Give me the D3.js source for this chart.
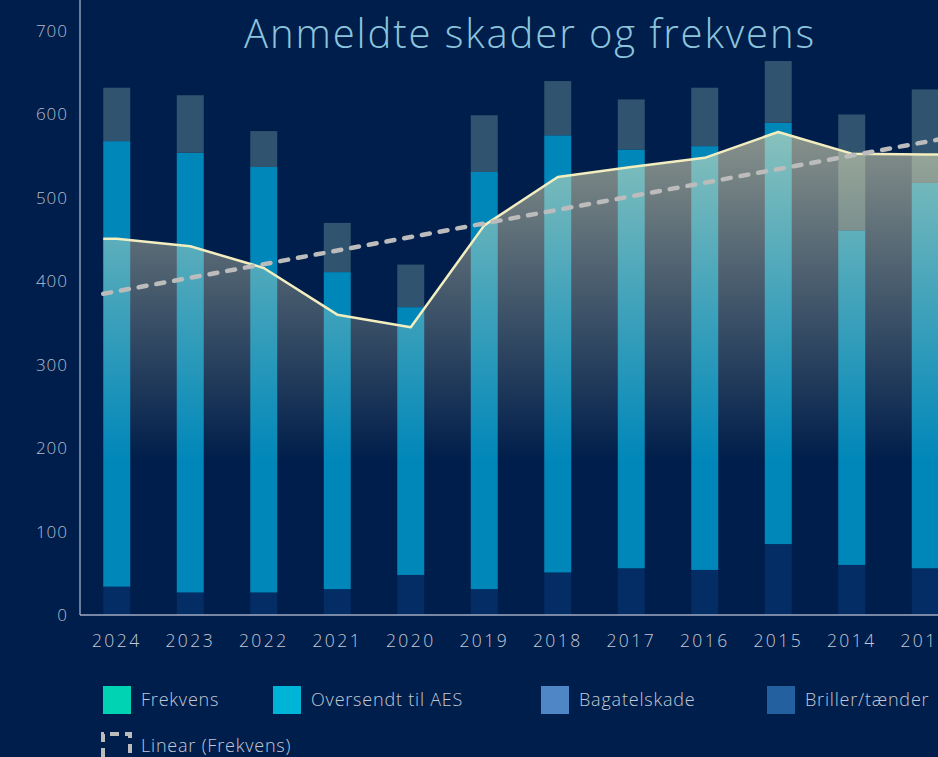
<!DOCTYPE html>
<html>
<head>
<meta charset="utf-8">
<script src="https://cdn.jsdelivr.net/npm/d3@7"></script>
<style>
  html, body { margin: 0; padding: 0; background: #001e4b; overflow: hidden; }
  svg { display: block; }
  text { font-family: "Open Sans", Lato, sans-serif; }
</style>
</head>
<body>
<div id="chart"></div>
<script>
var years = ['2024', '2023', '2022', '2021', '2020', '2019', '2018', '2017', '2016', '2015', '2014', '2013'];
var brillerTaender = [34, 27, 27, 31, 48, 31, 51, 56, 54, 85, 60, 56];
var oversendtAES = [534, 527, 510, 380, 321, 500, 524, 502, 508, 505, 401, 462];
var bagatelskade = [64, 69, 43, 59, 51, 68, 65, 60, 70, 74, 139, 112];
var frekvens = [451, 442, 416, 360, 345, 467, 525, 537, 548, 579, 553, 552];
var trendEnds = [385, 570];
var yTicks = [0, 100, 200, 300, 400, 500, 600, 700];

var legendItems = [
  { name: 'Frekvens', color: '#00d2b4' },
  { name: 'Oversendt til AES', color: '#00b4d8' },
  { name: 'Bagatelskade', color: '#4f86c6' },
  { name: 'Briller/tænder', color: '#22609f' }
];
var legendX = [103, 273, 541, 767];

var width = 1000, height = 757;
var margin = { left: 80, top: 31, bottom: 615 };

var svg = d3.select('#chart').append('svg')
  .attr('width', width)
  .attr('height', height);

var x = d3.scaleBand()
  .domain(years)
  .range([margin.left, margin.left + 73.5 * years.length])
  .paddingInner(0.633)
  .paddingOuter(0.3165);

var y = d3.scaleLinear()
  .domain([0, 700])
  .range([margin.bottom, margin.top]);

// stacked bars, bottom to top
var rows = years.map(function(yr, i) {
  return { year: yr, briller: brillerTaender[i], aes: oversendtAES[i], bagatel: bagatelskade[i] };
});
var stack = d3.stack().keys(['briller', 'aes', 'bagatel']);
var series = stack(rows);
var barColor = d3.scaleOrdinal()
  .domain(['briller', 'aes', 'bagatel'])
  .range(['#032d64', '#0087b9', '#30546f']);

svg.append('g').selectAll('g')
  .data(series)
  .join('g')
  .attr('fill', function(s) { return barColor(s.key); })
  .selectAll('rect')
  .data(function(s) { return s; })
  .join('rect')
  .attr('x', function(d) { return x(d.data.year); })
  .attr('width', x.bandwidth())
  .attr('y', function(d) { return y(d[1]); })
  .attr('height', function(d) { return y(d[0]) - y(d[1]); });

// frekvens area with fading gradient
var defs = svg.append('defs');
var grad = defs.append('linearGradient')
  .attr('id', 'frekGrad')
  .attr('gradientUnits', 'userSpaceOnUse')
  .attr('x1', 0).attr('x2', 0)
  .attr('y1', y(d3.max(frekvens)))
  .attr('y2', y(0));
grad.append('stop').attr('offset', 0).attr('stop-color', '#f3eebf').attr('stop-opacity', 0.56);
grad.append('stop').attr('offset', 0.68).attr('stop-color', '#f3eebf').attr('stop-opacity', 0);

var bw = x.bandwidth();
var pts = years.map(function(yr, i) { return [x(yr) + bw / 2, frekvens[i]]; });
pts.unshift([x(years[0]), frekvens[0]]);
pts.push([x(years[years.length - 1]) + bw, frekvens[frekvens.length - 1]]);

svg.append('path')
  .datum(pts)
  .attr('fill', 'url(#frekGrad)')
  .attr('d', d3.area()
    .x(function(d) { return d[0]; })
    .y0(y(0))
    .y1(function(d) { return y(d[1]); }));

svg.append('path')
  .datum(pts)
  .attr('fill', 'none')
  .attr('stroke', '#f3eebf')
  .attr('stroke-width', 2.5)
  .attr('stroke-linejoin', 'round')
  .attr('d', d3.line()
    .x(function(d) { return d[0]; })
    .y(function(d) { return y(d[1]); }));

// linear trend of frekvens
var trendPts = [
  [x(years[0]), trendEnds[0]],
  [x(years[years.length - 1]) + bw, trendEnds[1]]
];
svg.append('path')
  .datum(trendPts)
  .attr('fill', 'none')
  .attr('stroke', '#bcbcbc')
  .attr('stroke-width', 4.5)
  .attr('stroke-linecap', 'round')
  .attr('stroke-dasharray', '8 10')
  .attr('d', d3.line()
    .x(function(d) { return d[0]; })
    .y(function(d) { return y(d[1]); }));

// axes
svg.append('line')
  .attr('x1', margin.left).attr('x2', margin.left)
  .attr('y1', 0).attr('y2', y(0))
  .attr('stroke', '#8f9bb5').attr('stroke-width', 1.5);
svg.append('line')
  .attr('x1', margin.left).attr('x2', width)
  .attr('y1', y(0)).attr('y2', y(0))
  .attr('stroke', '#a3abc2').attr('stroke-width', 1.5);

svg.append('g').selectAll('text')
  .data(yTicks)
  .join('text')
  .attr('x', 68)
  .attr('y', function(d) { return y(d); })
  .attr('dy', '0.35em')
  .attr('text-anchor', 'end')
  .attr('fill', '#b4bccd')
  .attr('font-size', 17)
  .attr('font-weight', 300)
  .attr('letter-spacing', 1)
  .text(function(d) { return d; });

svg.append('g').selectAll('text')
  .data(years)
  .join('text')
  .attr('x', function(d) { return x(d) + bw / 2; })
  .attr('y', 641)
  .attr('dy', '0.35em')
  .attr('text-anchor', 'middle')
  .attr('fill', '#c3c8d6')
  .attr('font-size', 17.5)
  .attr('font-weight', 300)
  .attr('letter-spacing', 2.4)
  .text(function(d) { return d; });

// title
svg.append('text')
  .attr('x', 530)
  .attr('y', 48)
  .attr('text-anchor', 'middle')
  .attr('fill', '#8cc4dc')
  .attr('font-size', 40)
  .attr('font-weight', 300)
  .attr('letter-spacing', 1.9)
  .text('Anmeldte skader og frekvens');

// legend
var leg = svg.append('g').selectAll('g')
  .data(legendItems)
  .join('g')
  .attr('transform', function(d, i) { return 'translate(' + legendX[i] + ',686)'; });
leg.append('rect')
  .attr('width', 28)
  .attr('height', 28)
  .attr('fill', function(d) { return d.color; });
leg.append('text')
  .attr('x', 38)
  .attr('y', 14)
  .attr('dy', '0.35em')
  .attr('fill', '#c3c8d6')
  .attr('font-size', 18)
  .attr('font-weight', 300)
  .attr('letter-spacing', 0.8)
  .text(function(d) { return d.name; });

var trendLeg = svg.append('g').attr('transform', 'translate(103,734)');
trendLeg.append('path')
  .attr('d', 'M0,23V0H27V23')
  .attr('fill', 'none')
  .attr('stroke', '#bcbcbc')
  .attr('stroke-width', 4)
  .attr('stroke-dasharray', '9 6');
trendLeg.append('text')
  .attr('x', 38)
  .attr('y', 12)
  .attr('dy', '0.35em')
  .attr('fill', '#c3c8d6')
  .attr('font-size', 18)
  .attr('font-weight', 300)
  .attr('letter-spacing', 0.8)
  .text('Linear (Frekvens)');
</script>
</body>
</html>
